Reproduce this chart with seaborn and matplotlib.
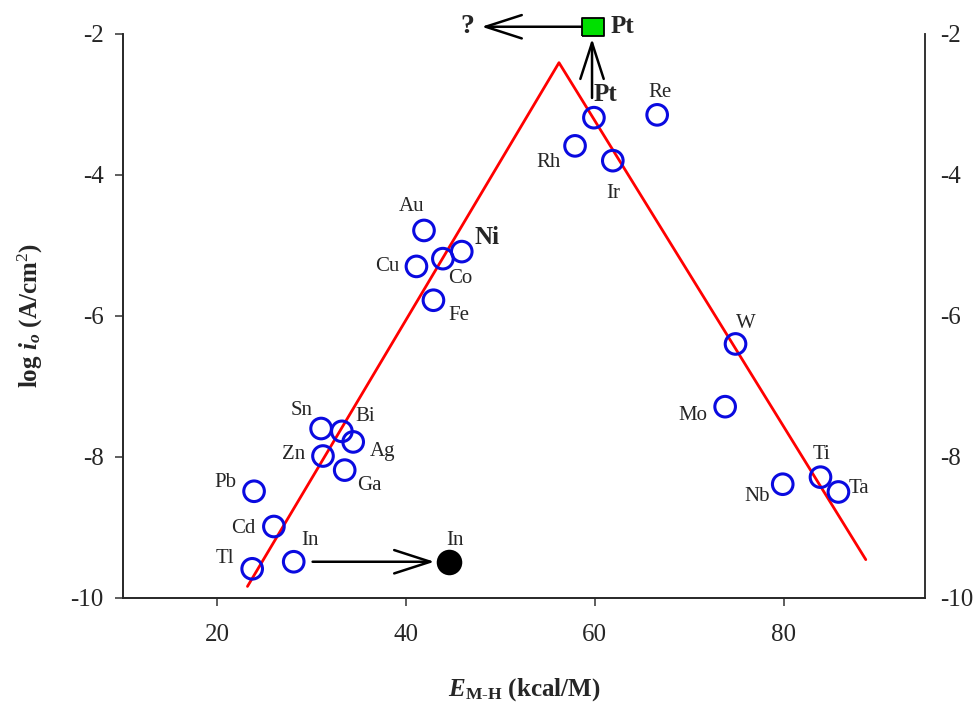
import matplotlib
matplotlib.use("Agg")
import matplotlib.pyplot as plt
import seaborn as sns
import pandas as pd

# metals, hydrogen-metal bond energy (kcal/M) and log exchange current density
metals = ["Pt", "Re", "Rh", "Ir", "Au", "Ni", "Co", "Cu", "Fe", "W", "Mo",
          "Sn", "Bi", "Ag", "Zn", "Ga", "Pb", "Cd", "Tl", "In", "Ti", "Nb", "Ta"]
e_mh = [59.9, 66.6, 57.9, 61.9, 41.9, 45.9, 43.9, 41.1, 42.9, 74.9, 73.8,
        31.0, 33.2, 34.4, 31.2, 33.5, 23.9, 26.0, 23.7, 28.1, 83.9, 79.9, 85.8]
log_i0 = [-3.19, -3.15, -3.59, -3.80, -4.79, -5.09, -5.19, -5.30, -5.78, -6.40, -7.29,
          -7.60, -7.64, -7.79, -7.99, -8.19, -8.49, -8.99, -9.59, -9.49, -8.29, -8.39, -8.50]

# volcano fit line
fit_x = [23.2, 56.2, 88.7]
fit_y = [-9.84, -2.41, -9.46]

# shifted In point and target Pt point
in_new_x, in_new_y = 44.6, -9.49
pt_new_x, pt_new_y = 59.8, -1.90

# arrow ends (tail, head)
arrow_in = [(30.1, -9.49), (43.0, -9.49)]
arrow_pt_left = [(58.6, -1.90), (48.0, -1.90)]
arrow_pt_up = [(59.7, -2.91), (59.7, -2.07)]

# label offsets in pixels (dx, dy)
offsets = {
    "Re": (3, 22), "Pt": (12, 23), "Rh": (-26, -17), "Ir": (0, -33), "Au": (-12, 24),
    "Ni": (25, 14), "Cu": (-29, 0), "Co": (17, -20), "Fe": (25, -15), "W": (10, 20),
    "Mo": (-32, -9), "Sn": (-19, 18), "Bi": (23, 15), "Ag": (29, -10), "Zn": (-29, 2),
    "Ga": (25, -15), "Pb": (-29, 9), "Cd": (-31, -2), "Tl": (-27, 10), "In": (16, 21),
    "Ti": (1, 23), "Nb": (-26, -12), "Ta": (21, 3),
}
bold_labels = ["Pt", "Ni"]

sns.set_theme(style="ticks")
plt.rcParams["font.family"] = ["Liberation Serif", "DejaVu Serif"]
plt.rcParams["axes.unicode_minus"] = False
plt.rcParams["mathtext.fontset"] = "custom"
plt.rcParams["mathtext.rm"] = "Liberation Serif"
plt.rcParams["mathtext.it"] = "Liberation Serif:italic"
plt.rcParams["mathtext.bf"] = "Liberation Serif:bold"
plt.rcParams["mathtext.bfit"] = "Liberation Serif:bold:italic"

df = pd.DataFrame({"metal": metals, "E": e_mh, "logi": log_i0})

fig, ax = plt.subplots(figsize=(9.75, 7.04), dpi=100)
fig.subplots_adjust(left=0.126, right=0.949, bottom=0.151, top=0.952)

sns.lineplot(x=fit_x, y=fit_y, sort=False, estimator=None, color="red", lw=2.0, ax=ax, zorder=2)
sns.scatterplot(data=df, x="E", y="logi", marker="o", s=220, facecolors="none",
                edgecolor="#0a0ae0", linewidth=2.2, ax=ax, zorder=3)
sns.scatterplot(x=[in_new_x], y=[in_new_y], marker="o", s=290, color="black",
                edgecolor="black", ax=ax, zorder=3)
rect = [(-1, -0.78), (1, -0.78), (1, 0.78), (-1, 0.78), (-1, -0.78)]
sns.scatterplot(x=[pt_new_x], y=[pt_new_y], marker=rect, s=250, color="#00e000",
                edgecolor="black", linewidth=1.3, ax=ax, zorder=5, clip_on=False)

for name, x, y in zip(metals, e_mh, log_i0):
    dx, dy = offsets[name]
    if name in bold_labels:
        ax.annotate(name, (x, y), xytext=(dx, dy), textcoords="offset pixels",
                    ha="center", va="center", fontsize=18, fontweight="bold")
    else:
        ax.annotate(name, (x, y), xytext=(dx, dy), textcoords="offset pixels",
                    ha="center", va="center", fontsize=15)

ax.annotate("In", (in_new_x, in_new_y), xytext=(6, 21), textcoords="offset pixels",
            ha="center", va="center", fontsize=15)
ax.annotate("Pt", (pt_new_x, pt_new_y), xytext=(29, 0), textcoords="offset pixels",
            ha="center", va="center", fontsize=18, fontweight="bold", annotation_clip=False)
ax.annotate("?", (46.5, pt_new_y), ha="center", va="center", fontsize=20,
            fontweight="bold", annotation_clip=False)

arrow_kw = dict(arrowstyle="->, head_length=1.3, head_width=0.42", lw=1.8, color="black",
                mutation_scale=20, shrinkA=0, shrinkB=0)
for tail, head in [arrow_in, arrow_pt_left, arrow_pt_up]:
    ax.annotate("", xy=head, xytext=tail, arrowprops=arrow_kw, annotation_clip=False)

ax.set_xlim(10, 95)
ax.set_ylim(-10, -2)
ax.set_xticks([20, 40, 60, 80])
ax.set_yticks([-10, -8, -6, -4, -2])
ax.tick_params(axis="both", direction="out", length=6, width=1.1, labelsize=18, color="#333333")
ax.tick_params(axis="x", pad=13)
ax.tick_params(axis="y", pad=8)
for side in ["left", "bottom", "right"]:
    ax.spines[side].set_visible(True)
    ax.spines[side].set_color("#333333")
    ax.spines[side].set_linewidth(1.2)
ax.spines["top"].set_visible(False)

ax2 = ax.twinx()
ax2.set_ylim(-10, -2)
ax2.set_yticks([-10, -8, -6, -4, -2])
ax2.tick_params(axis="y", length=0, pad=11, labelsize=18)
ax2.spines["top"].set_visible(False)
ax2.spines["right"].set_color("#333333")
ax2.spines["right"].set_linewidth(1.2)

ax.set_xlabel(r"$\mathbfit{E}_{\mathbf{M}\text{-}\mathbf{H}}$ (kcal/M)", fontsize=18,
              fontweight="bold", labelpad=22)
ax.set_ylabel(r"log $\mathbfit{i}_{\mathbfit{o}}$ (A/cm$^2$)", fontsize=18,
              fontweight="bold", labelpad=18)

fig.savefig("out.png", dpi=100)
